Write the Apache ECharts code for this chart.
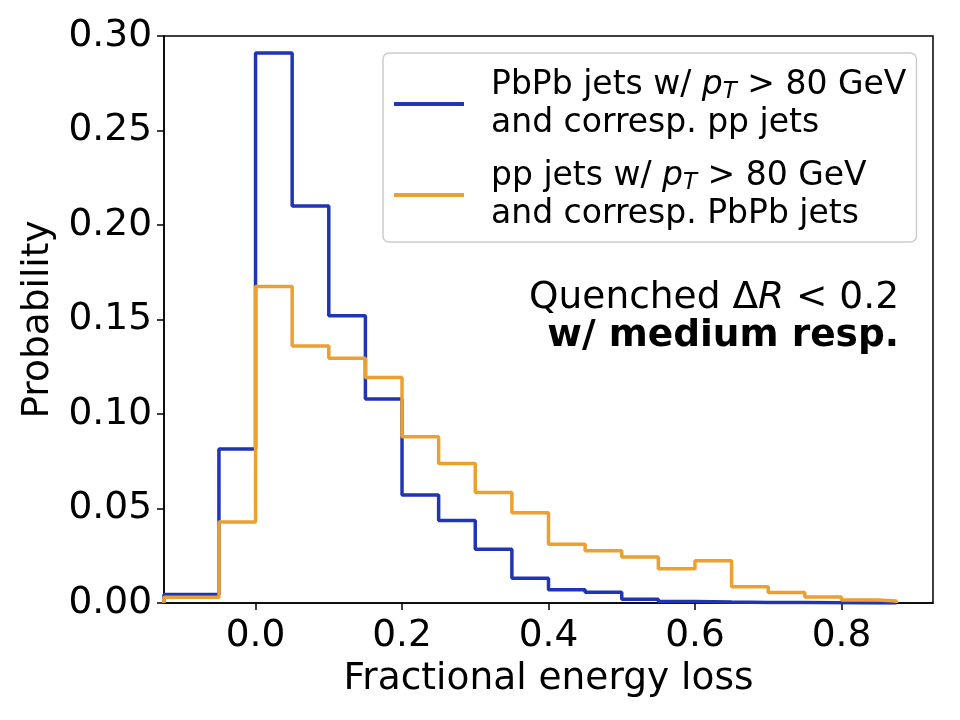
<!DOCTYPE html>
<html><head><meta charset="utf-8">
<script src="https://cdn.jsdelivr.net/npm/echarts@6/dist/echarts.min.js"></script>
<style>html,body{margin:0;padding:0;background:#fff}#c{width:960px;height:720px}</style>
</head><body><div id="c"></div>
<script>
// Histogram bin edges (fractional energy loss)
const binEdges = [-0.125, -0.05, 0, 0.05, 0.1, 0.15, 0.2, 0.25, 0.3, 0.35, 0.4, 0.45, 0.5, 0.55, 0.6, 0.65, 0.7, 0.75, 0.8, 0.85, 0.875];
// PbPb jets w/ pT > 80 GeV and corresp. pp jets
const pbpbProb = [0.0045, 0.0815, 0.291, 0.210, 0.152, 0.108, 0.0572, 0.0436, 0.0284, 0.0131, 0.0070, 0.0057, 0.0020, 0.0008, 0.0005, 0.0003, 0.0002, 0.0001, 0, 0];
// pp jets w/ pT > 80 GeV and corresp. PbPb jets
const ppProb = [0.0030, 0.0429, 0.1675, 0.136, 0.1295, 0.1193, 0.0880, 0.0738, 0.0584, 0.0478, 0.0311, 0.0277, 0.0243, 0.0181, 0.0224, 0.0086, 0.0055, 0.0032, 0.0016, 0.0010];
const xTicks = [0, 0.2, 0.4, 0.6, 0.8];
const yTicks = [0, 0.05, 0.10, 0.15, 0.20, 0.25, 0.30];
const seriesNames = ['PbPb jets w/ pT > 80 GeV and corresp. pp jets', 'pp jets w/ pT > 80 GeV and corresp. PbPb jets'];
const legendRich = [
  '{n|PbPb jets w/ }{i|p}{s|T}{n| > 80 GeV}\n{n|and corresp. pp jets}',
  '{n|pp jets w/ }{i|p}{s|T}{n| > 80 GeV}\n{n|and corresp. PbPb jets}'
];
const colors = ['#2035b4', '#eca030'];
const FF = 'DejaVu Sans';

function stepData(edges, vals) {
  const d = [[edges[0], 0]];
  vals.forEach((v, i) => d.push([edges[i], v]));
  d.push([edges[edges.length - 1], vals[vals.length - 1]]);
  d.push([edges[edges.length - 1], 0]);
  return d;
}

const chart = echarts.init(document.getElementById('c'), null, {renderer: 'canvas'});
chart.setOption({
  animation: false,
  backgroundColor: '#fff',
  grid: {left: 164, right: 27, top: 36, bottom: 117, show: true, borderColor: '#000', borderWidth: 1.5, backgroundColor: 'transparent'},
  xAxis: {
    type: 'value', min: -0.125, max: 0.925,
    name: 'Fractional energy loss', nameLocation: 'middle', nameGap: 56,
    nameTextStyle: {fontFamily: FF, fontSize: 37.5, color: '#000'},
    axisLine: {show: true, onZero: false, lineStyle: {color: '#000', width: 1.5}},
    axisTick: {show: true, inside: false, length: 7, lineStyle: {color: '#000', width: 1.5}, customValues: xTicks},
    axisLabel: {fontFamily: FF, fontSize: 37.5, color: '#000', margin: 14, customValues: xTicks, formatter: v => v.toFixed(1)},
    splitLine: {show: false}
  },
  yAxis: {
    type: 'value', min: 0, max: 0.30, interval: 0.05,
    name: 'Probability', nameLocation: 'middle', nameGap: 106,
    nameTextStyle: {fontFamily: FF, fontSize: 37.5, color: '#000'},
    axisLine: {show: true, onZero: false, lineStyle: {color: '#000', width: 1.5}},
    axisTick: {show: true, inside: false, length: 7, lineStyle: {color: '#000', width: 1.5}, customValues: yTicks},
    axisLabel: {fontFamily: FF, fontSize: 37.5, color: '#000', margin: 12, customValues: yTicks, formatter: v => v.toFixed(2)},
    splitLine: {show: false}
  },
  legend: {
    orient: 'vertical', left: 383, top: 53,
    icon: 'rect', itemWidth: 70, itemHeight: 4, itemGap: 15,
    padding: [13, 10, 9, 11],
    backgroundColor: '#fff', borderColor: '#cccccc', borderWidth: 1.5, borderRadius: 6,
    data: seriesNames,
    formatter: name => legendRich[seriesNames.indexOf(name)],
    textStyle: {
      fontFamily: FF, fontSize: 33, lineHeight: 38, color: '#000', padding: [0, 0, 0, 22],
      rich: {
        n: {fontFamily: FF, fontSize: 33, lineHeight: 38, color: '#000'},
        i: {fontFamily: FF, fontSize: 33, lineHeight: 38, fontStyle: 'italic', color: '#000'},
        s: {fontFamily: FF, fontSize: 23, lineHeight: 18, fontStyle: 'italic', verticalAlign: 'bottom', color: '#000'}
      }
    }
  },
  graphic: [{
    type: 'text', z: 10,
    style: {
      x: 899, y: 317, align: 'right', verticalAlign: 'middle',
      text: '{q|Quenched Δ}{qi|R}{q| < 0.2}\n{b|w/ medium resp.}',
      rich: {
        q: {fontFamily: FF, fontSize: 37.5, lineHeight: 38, fill: '#000', align: 'right'},
        qi: {fontFamily: FF, fontSize: 37.5, lineHeight: 38, fontStyle: 'italic', fill: '#000', align: 'right'},
        b: {fontFamily: FF, fontSize: 37.5, lineHeight: 38, fontWeight: 'bold', fill: '#000', align: 'right'}
      }
    }
  }],
  series: [
    {name: seriesNames[0], type: 'line', step: 'end', showSymbol: false, symbol: 'none', clip: true,
     lineStyle: {color: colors[0], width: 3.5}, itemStyle: {color: colors[0]}, data: stepData(binEdges, pbpbProb), z: 2},
    {name: seriesNames[1], type: 'line', step: 'end', showSymbol: false, symbol: 'none', clip: true,
     lineStyle: {color: colors[1], width: 3.5}, itemStyle: {color: colors[1]}, data: stepData(binEdges, ppProb), z: 3}
  ]
});
</script></body></html>
